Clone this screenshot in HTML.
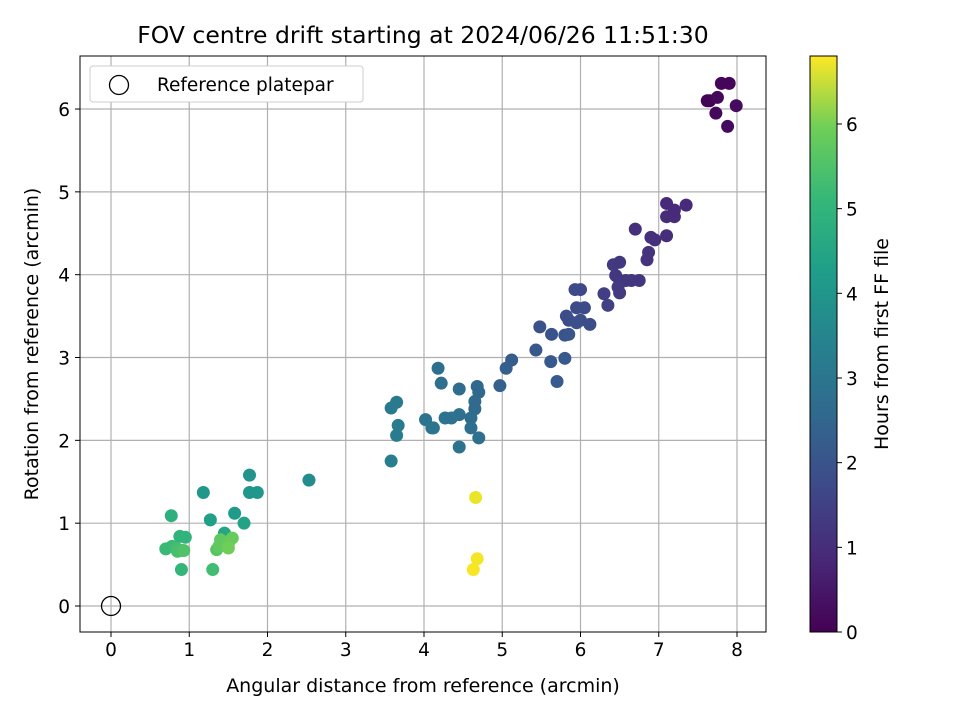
<!DOCTYPE html>
<html><head><meta charset="utf-8"><style>
body{margin:0;background:#fff;}
svg{display:block;font-family:"DejaVu Sans","Liberation Sans",sans-serif;}
</style></head><body>
<svg id="c" width="960" height="720" viewBox="0 0 960 720">
<defs><linearGradient id="vir" x1="0" y1="1" x2="0" y2="0">
<stop offset="0" stop-color="#440154"/><stop offset="0.125" stop-color="#482878"/><stop offset="0.25" stop-color="#3e4989"/><stop offset="0.375" stop-color="#31688e"/><stop offset="0.5" stop-color="#26828e"/><stop offset="0.625" stop-color="#1f9e89"/><stop offset="0.75" stop-color="#35b779"/><stop offset="0.875" stop-color="#6ece58"/><stop offset="1" stop-color="#fde725"/>
</linearGradient></defs>
<text x="423" y="43" font-size="23.5" text-anchor="middle">FOV centre drift starting at 2024/06/26 11:51:30</text>
<g id="grid"></g><g id="pts"></g><g id="axes"></g>
<text x="423" y="692" font-size="19" text-anchor="middle">Angular distance from reference (arcmin)</text>
<text transform="translate(38,344) rotate(-90)" font-size="19" text-anchor="middle">Rotation from reference (arcmin)</text>
<g>
<rect x="90" y="66" width="273" height="36" rx="3" fill="#fff" stroke="#ccc"/>
<circle cx="119" cy="85" r="9.5" fill="none" stroke="#000" stroke-width="1.3"/>
<text x="157" y="91" font-size="18.5">Reference platepar</text>
</g>
<rect x="810" y="56" width="27" height="576" fill="url(#vir)" stroke="#000" stroke-width="1"/>
<g id="cb"></g>
<text transform="translate(888,344) rotate(-90)" font-size="19" text-anchor="middle">Hours from first FF file</text>
</svg>
<script>
const xs=[7.62,7.65,7.8,7.9,7.75,7.73,7.88,7.99, 7.1,7.1,7.2,7.2,7.35,7.1,6.95,6.9,6.87,6.85,6.7,6.75,6.65,6.58,6.5,6.45,6.42,6.5,6.48,6.5,6.3,6.35, 5.93,6.0,5.95,6.05,5.82,5.85,5.95,6.0,6.12,5.48,5.63,5.8,5.85,5.43,5.62,5.8,5.7,5.12,5.05,4.97, 4.68,4.7,4.65,4.65,4.6,4.6,4.7,4.45,4.45,4.35,4.27,4.18,4.22,4.02,4.1,4.12,4.45,3.58,3.65,3.65,3.67,3.58, 2.53, 4.66,4.68,4.63, 1.77,1.77,1.87,1.18,1.58,1.27,1.7,1.45, 0.77,0.88,0.95,0.7,0.78,0.83,0.85,0.9,0.93,0.9,1.3,1.35,1.38,1.4,1.5,1.55,1.5];
const ys=[6.1,6.1,6.31,6.31,6.14,5.95,5.79,6.04, 4.86,4.7,4.7,4.78,4.84,4.47,4.42,4.45,4.27,4.18,4.55,3.93,3.93,3.93,3.93,3.99,4.12,4.15,3.85,3.78,3.77,3.63, 3.82,3.82,3.6,3.6,3.5,3.45,3.42,3.45,3.4,3.37,3.28,3.27,3.28,3.09,2.95,2.99,2.71,2.97,2.87,2.66, 2.65,2.58,2.47,2.38,2.27,2.15,2.03,2.62,2.31,2.27,2.27,2.87,2.69,2.25,2.15,2.15,1.92,2.39,2.46,2.06,2.18,1.75, 1.52, 1.31,0.57,0.44, 1.58,1.37,1.37,1.37,1.12,1.04,1.0,0.88, 1.09,0.84,0.83,0.69,0.72,0.7,0.66,0.67,0.67,0.44,0.44,0.68,0.72,0.8,0.75,0.82,0.7];
const hours=[0.05,0.05,0.1,0.1,0.15,0.15,0.2,0.2, 0.8,0.85,0.85,0.8,0.8,0.9,0.95,0.95,1.0,1.0,0.95,1.05,1.05,1.1,1.1,1.1,1.15,1.1,1.2,1.2,1.25,1.3, 1.5,1.5,1.55,1.55,1.6,1.6,1.65,1.65,1.6,1.7,1.75,1.75,1.8,1.85,1.9,1.9,1.95,2.0,2.05,2.1, 2.3,2.3,2.35,2.35,2.4,2.45,2.5,2.4,2.5,2.55,2.55,2.45,2.5,2.6,2.65,2.65,2.6,2.8,2.8,2.85,2.85,2.9, 3.3, 6.6,6.7,6.75, 3.5,3.55,3.55,3.6,3.7,3.8,3.9,4.0, 4.3,4.4,4.4,4.6,4.6,4.7,4.8,4.8,4.9,4.5,4.7,5.0,5.1,5.1,5.2,5.2,5.3];
const xTicks=[0,1,2,3,4,5,6,7,8], yTicks=[0,1,2,3,4,5,6], cTicks=[0,1,2,3,4,5,6];
const L=80,R=766,T=56,B=632;
const X=v=>111+v*78.25, Y=v=>606-v*82.83, C=v=>632-v*84.67;
const vir=[[68,1,84],[72,40,120],[62,73,137],[49,104,142],[38,130,142],[31,158,137],[53,183,121],[110,206,88],[181,222,43],[253,231,37]];
function col(h){let t=Math.max(0,Math.min(1,h/6.8))*(vir.length-1);let i=Math.min(vir.length-2,Math.floor(t)),f=t-i;
return 'rgb('+vir[i].map((c,k)=>Math.round(c+(vir[i+1][k]-c)*f)).join(',')+')';}
const NS='http://www.w3.org/2000/svg';
function mk(p,tag,a){const e=document.createElementNS(NS,tag);for(const k in a)e.setAttribute(k,a[k]);p.appendChild(e);return e;}
const g=document.getElementById('grid'),ax=document.getElementById('axes'),pts=document.getElementById('pts'),cb=document.getElementById('cb');
xTicks.forEach(v=>{const x=X(v);
const l=mk(g,'line',{x1:x,x2:x,y1:T,y2:B,stroke:'#b0b0b0','stroke-width':1.2});


mk(ax,'line',{x1:x,x2:x,y1:B,y2:B+5,stroke:'#000'});
const t=mk(ax,'text',{x:x,y:B+24,'font-size':18.5,'text-anchor':'middle'});t.textContent=v;

});
yTicks.forEach(v=>{const y=Y(v);
const l=mk(g,'line',{x1:L,x2:R,y1:y,y2:y,stroke:'#b0b0b0','stroke-width':1.2});


mk(ax,'line',{x1:L-5,x2:L,y1:y,y2:y,stroke:'#000'});
const t=mk(ax,'text',{x:L-10,y:y+7,'font-size':18.5,'text-anchor':'end'});t.textContent=v;

});
const fr=mk(ax,'rect',{x:L,y:T,width:R-L,height:B-T,fill:'none',stroke:'#000','stroke-width':1});


xs.forEach((v,i)=>{const c=mk(pts,'circle',{cx:X(v),cy:Y(ys[i]),r:6.5,fill:col(hours[i])});

});
const ref=mk(pts,'circle',{cx:X(0),cy:Y(0),r:9.5,fill:'none',stroke:'#000','stroke-width':1.3});


cTicks.forEach(v=>{const y=C(v);
mk(cb,'line',{x1:837,x2:842,y1:y,y2:y,stroke:'#000'});
const t=mk(cb,'text',{x:846,y:y+7,'font-size':18.5});t.textContent=v;

});
</script>
</body></html>
